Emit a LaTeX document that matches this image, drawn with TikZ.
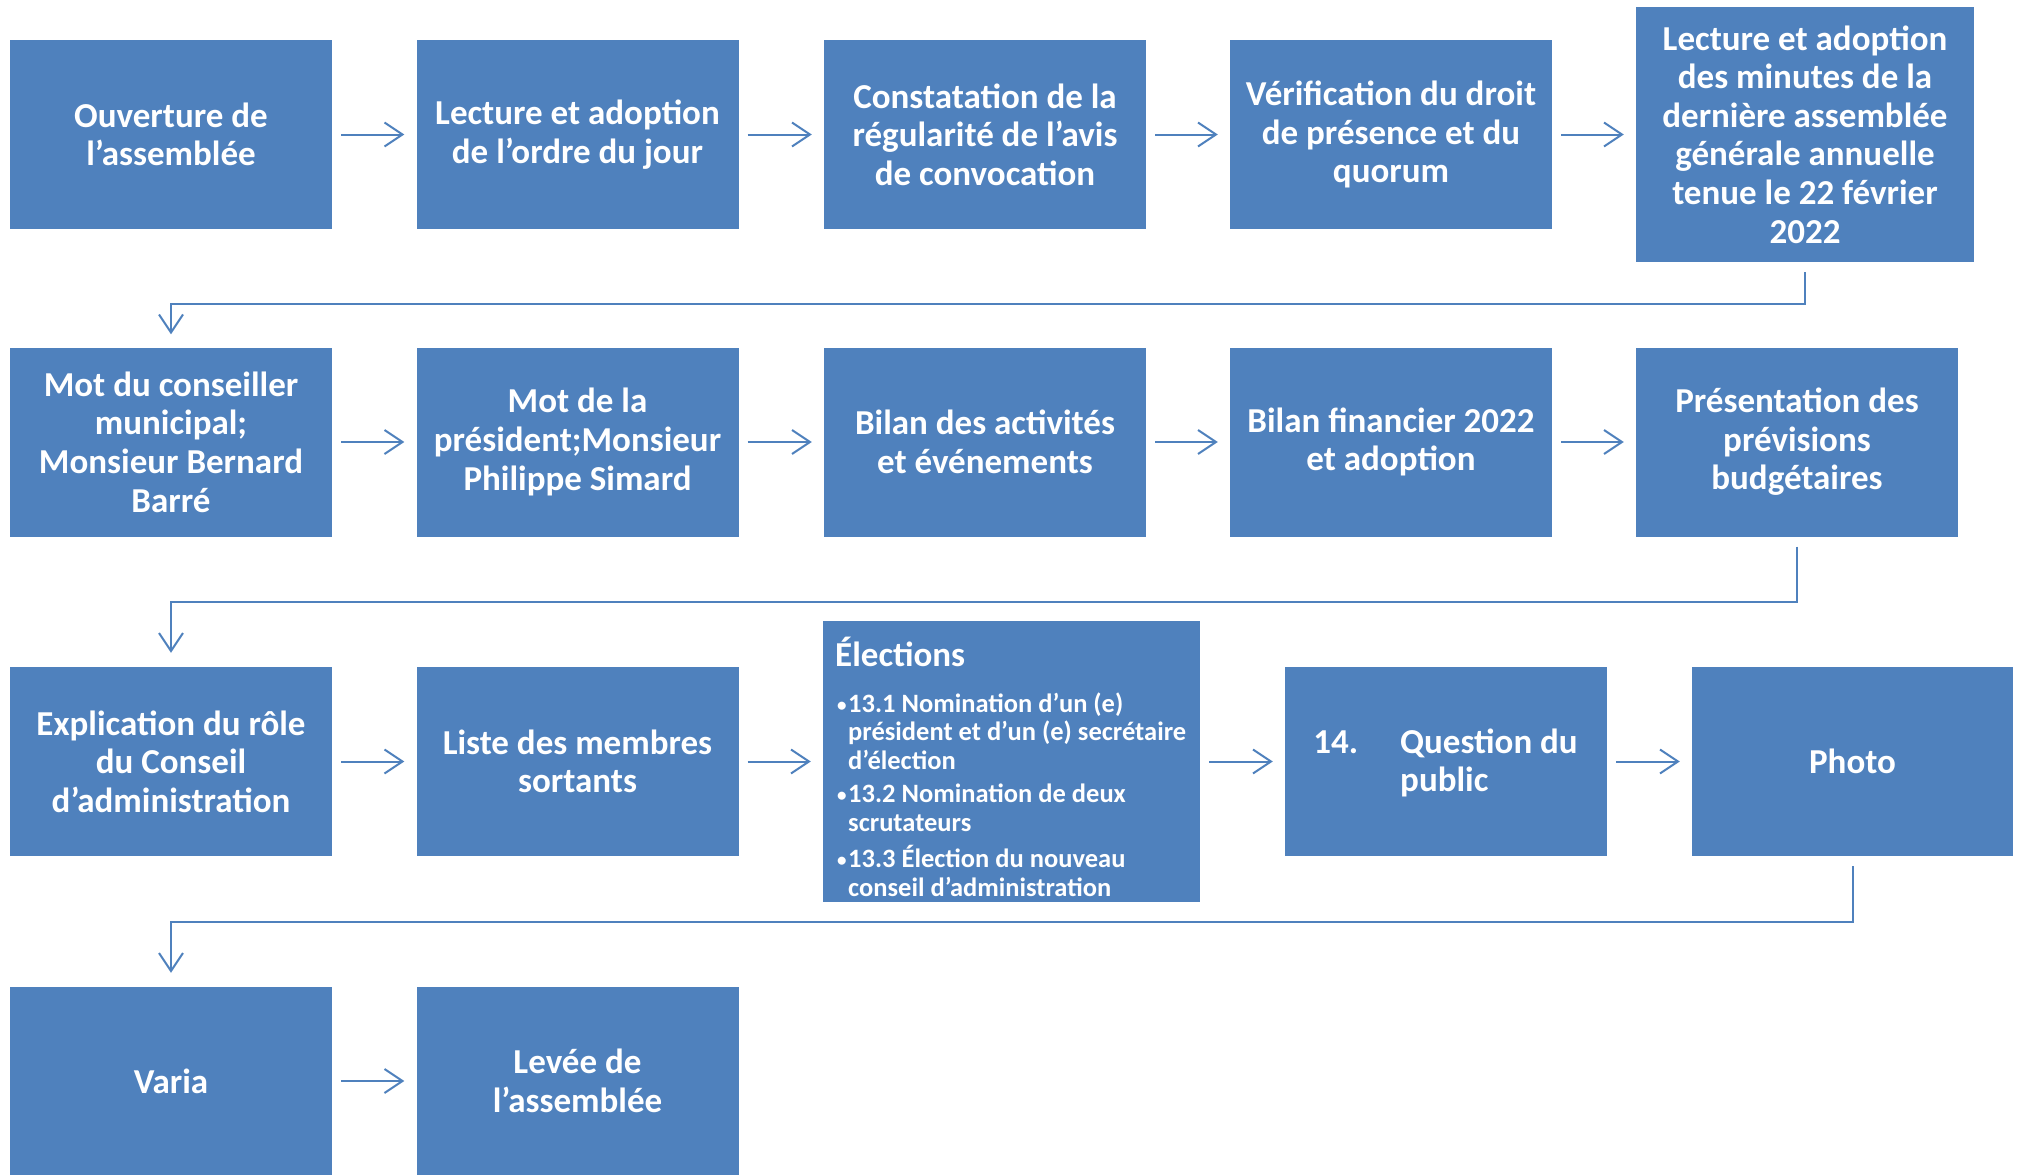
\documentclass[tikz,border=0pt]{standalone}
\usepackage{fontspec}
\setmainfont{Carlito}
\usetikzlibrary{arrows.meta}
\definecolor{boxblue}{HTML}{4F81BD}
\newcommand{\mybul}{\llap{\raisebox{1pt}{\fontsize{19}{19}\selectfont•}\hspace{1.5pt}}}
\begin{document}
\begin{tikzpicture}[x=1pt,y=-1pt,
  box/.style={fill=boxblue, draw=none, text=white, font=\bfseries\fontsize{35}{38.6}\selectfont,
    align=center, minimum width=322pt, minimum height=189pt, inner sep=0pt},
  inner/.style={text=white, inner sep=0pt, align=left},
  small/.style={font=\bfseries\fontsize{26.5}{28.5}\selectfont},
  arr/.style={draw=boxblue, line width=2pt, -{Straight Barb[length=18pt,width=24pt]}},
  link/.style={draw=boxblue, line width=2pt, -{Straight Barb[length=18pt,width=24pt]}}]
\useasboundingbox (0,0) rectangle (2021,1175);
% row 1
\node[box] (b1) at (171,134.5) {Ouverture de\\l’assemblée};
\node[box] (b2) at (577.5,134.5) {Lecture et adoption\\de l’ordre du jour};
\node[box] (b3) at (985,134.5) {Constatation de la\\régularité de l’avis\\de convocation};
\node[box] (b4) at (1391,134.5) {Vérification du droit\\de présence et du\\quorum};
\node[box, minimum width=338pt, minimum height=255pt] (b5) at (1805,134.5) {Lecture et adoption\\des minutes de la\\dernière assemblée\\générale annuelle\\tenue le 22 février\\2022};
% row 2
\node[box] (c1) at (171,442) {Mot du conseiller\\municipal;\\Monsieur Bernard\\Barré};
\node[box] (c2) at (577.5,442) {Mot de la\\président;Monsieur\\Philippe Simard};
\node[box] (c3) at (985,442) {Bilan des activités\\et événements};
\node[box] (c4) at (1391,442) {Bilan financier 2022\\et adoption};
\node[box] (c5) at (1797,442) {Présentation des\\prévisions\\budgétaires};
% row 3
\node[box] (d1) at (171,761.5) {Explication du rôle\\du Conseil\\d’administration};
\node[box] (d2) at (577.5,761.5) {Liste des membres\\sortants};
\node[box, minimum width=377pt, minimum height=281pt] (d3) at (1011.5,761.5) {};
\node[box] (d4) at (1446,761.5) {};
\node[box, minimum width=321pt] (d5) at (1852.5,761.5) {Photo};
% elections content
\node[inner, anchor=west, font=\bfseries\fontsize{35}{38.6}\selectfont] (elh) at (835,652) {Élections};
\node[inner, anchor=west, small] (el1) at (848,731) {\mybul 13.1 Nomination d’un (e)\\président et d’un (e) secrétaire\\d’élection};
\node[inner, anchor=west, small] (el2) at (848,808) {\mybul 13.2 Nomination de deux\\scrutateurs};
\node[inner, anchor=west, small] (el3) at (848,871) {\mybul 13.3 Élection du nouveau\\conseil d’administration};
% question content
\node[inner, anchor=west, font=\bfseries\fontsize{35}{38.6}\selectfont] (q) at (1400,763) {\llap{14.\hspace{42pt}}Question du\\public};
% row 4
\node[box, minimum height=188pt] (e1) at (171,1081) {Varia};
\node[box, minimum height=188pt] (e2) at (577.5,1081) {Levée de\\l’assemblée};
% arrows
\foreach \a/\b in {b1/b2,b2/b3,b3/b4,b4/b5,c1/c2,c2/c3,c3/c4,c4/c5,d1/d2,d2/d3,d3/d4,d4/d5,e1/e2}
  \draw[arr] ([xshift=9pt]\a.east) -- ([xshift=-12pt]\b.west);
\draw[link] ([yshift=-10pt]b5.south) -- ++(0,32) -| ([yshift=13pt]c1.north);
\draw[link] ([yshift=-10pt]c5.south) -- ++(0,55) -| ([yshift=14pt]d1.north);
\draw[link] ([yshift=-10pt]d5.south) -- ++(0,56) -| ([yshift=14pt]e1.north);
\end{tikzpicture}
\end{document}
